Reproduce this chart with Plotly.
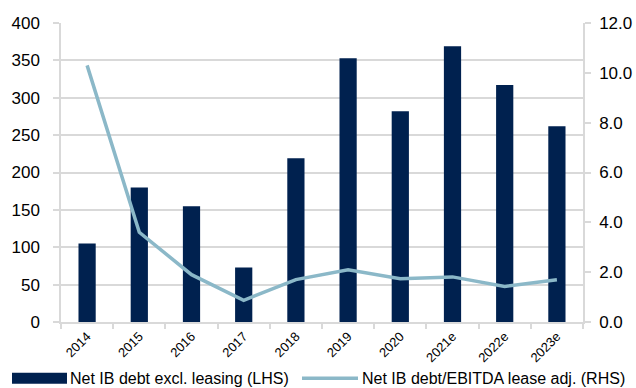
import plotly.graph_objects as go

# Net interest-bearing debt (LHS) and leverage multiple (RHS)
years = ["2014", "2015", "2016", "2017", "2018", "2019", "2020", "2021e", "2022e", "2023e"]
net_debt = [105, 180, 155, 73, 219, 353, 282, 369, 317, 262]
leverage = [10.3, 3.6, 1.9, 0.87, 1.7, 2.1, 1.74, 1.81, 1.43, 1.7]

bar_name = "Net IB debt excl. leasing (LHS)"
line_name = "Net IB debt/EBITDA lease adj. (RHS)"

BAR_COLOR = "#00214F"
LINE_COLOR = "#8BB8C8"
GRID = "#D9D9D9"
FONT = "Liberation Sans, Arial, sans-serif"

W, H = 636, 388
ML, MR, MT, MB = 61, 53, 22.5, 65.5
PW, PH = W - ML - MR, H - MT - MB


def px_x(p):
    return (p - ML) / PW


def px_y(p):
    return (H - MB - p) / PH


fig = go.Figure()
fig.add_trace(go.Bar(x=years, y=net_debt, name=bar_name, marker_color=BAR_COLOR,
                     marker_line_width=0, showlegend=False))
fig.add_trace(go.Scatter(x=years, y=leverage, name=line_name, yaxis="y2", mode="lines",
                         line=dict(color=LINE_COLOR, width=3.5), showlegend=False))

# legend drawn below the axis
legend_y = 379
fig.add_shape(type="rect", xref="paper", yref="paper",
              x0=px_x(12), x1=px_x(67), y0=px_y(384.5), y1=px_y(373.5),
              fillcolor=BAR_COLOR, line_width=0)
fig.add_annotation(text=bar_name, xref="paper", yref="paper", x=px_x(68), y=px_y(legend_y),
                   xanchor="left", yanchor="middle", showarrow=False,
                   font=dict(family=FONT, size=16, color="#000"))
fig.add_shape(type="line", xref="paper", yref="paper",
              x0=px_x(302), x1=px_x(358), y0=px_y(legend_y), y1=px_y(legend_y),
              line=dict(color=LINE_COLOR, width=3.5))
fig.add_annotation(text=line_name, xref="paper", yref="paper", x=px_x(360), y=px_y(legend_y),
                   xanchor="left", yanchor="middle", showarrow=False,
                   font=dict(family=FONT, size=16, color="#000"))

fig.update_layout(
    width=W, height=H,
    margin=dict(l=ML, r=MR, t=MT, b=MB, pad=0, autoexpand=False),
    paper_bgcolor="white", plot_bgcolor="white",
    font=dict(family=FONT, color="#000"),
    bargap=0.67,
    xaxis=dict(type="category", showgrid=False, showline=True, linecolor=GRID, linewidth=1.5,
               ticks="outside", ticklen=5, tickcolor=GRID, tickwidth=1.5,
               tickson="boundaries", tickangle=-45, automargin=False,
               tickfont=dict(family=FONT, size=13, color="#000")),
    yaxis=dict(range=[0, 400], dtick=50, showgrid=True, gridcolor=GRID, gridwidth=1.5,
               showline=True, linecolor=GRID, linewidth=1.5, zeroline=False,
               ticks="outside", ticklen=6, tickcolor=GRID, tickwidth=1.5,
               ticklabelstandoff=10, automargin=False,
               tickfont=dict(family=FONT, size=17, color="#000")),
    yaxis2=dict(range=[0, 12], dtick=2, tickformat=".1f", overlaying="y", side="right",
                showgrid=False, showline=True, linecolor=GRID, linewidth=1.5, zeroline=False,
                ticks="outside", ticklen=6, tickcolor=GRID, tickwidth=1.5,
                ticklabelstandoff=5, automargin=False,
                tickfont=dict(family=FONT, size=17, color="#000")),
)

fig.write_html("out.html")
